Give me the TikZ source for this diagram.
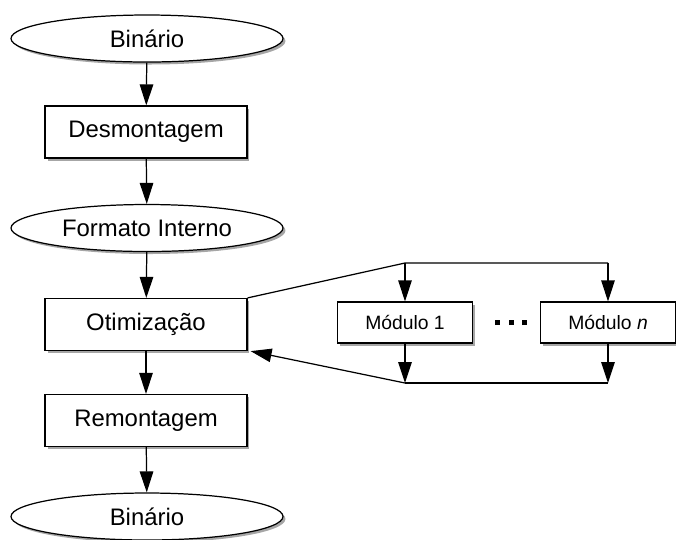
\documentclass[tikz,border=0pt]{standalone}
\usepackage{fontspec}
\setmainfont{Liberation Sans}
\usetikzlibrary{shapes.geometric,shadows,arrows.meta,calc}

\begin{document}
\begin{tikzpicture}[x=0.02cm,y=-0.02cm,line width=0.7pt,
    sombra/.style={drop shadow={shadow xshift=0.05cm,shadow yshift=-0.05cm,
        fill=black!35,opacity=1}},
    dado/.style={ellipse,draw,fill=white,sombra,minimum width=5.44cm,
      minimum height=0.94cm,inner sep=0pt,font=\fontsize{13.6}{15}\selectfont},
    etapa/.style={rectangle,draw,fill=white,sombra,minimum width=4.04cm,
      minimum height=1.04cm,inner sep=0pt,font=\fontsize{13.6}{15}\selectfont},
    modulo/.style={rectangle,draw,fill=white,sombra,minimum width=2.7cm,
      minimum height=0.82cm,inner sep=0pt,font=\fontsize{11}{13}\selectfont},
    seta/.style={-{Triangle[length=0.42cm,width=0.27cm]}}]

    \useasboundingbox (0,0) rectangle (676,539);

    \node[dado] (bin1) at (147,38.5) {Binário};
    \node[etapa] (desm) at (146,132) {Desmontagem};
    \node[dado] (fmt) at (147,228) {Formato Interno};
    \node[etapa] (otim) at (146,324.5) {Otimização};
    \node[etapa] (remo) at (146,420.5) {Remontagem};
    \node[dado] (bin2) at (147,516.5) {Binário};

    \node[modulo] (mod1) at (405,322.5) {Módulo 1};
    \node[modulo] (modn) at (608,322.5) {Módulo \textit{n}};
    \node[inner sep=0pt] (dots) at (511,322.5)
      {\rule{0.1cm}{0.1cm}\hspace{0.17cm}\rule{0.1cm}{0.1cm}\hspace{0.17cm}\rule{0.1cm}{0.1cm}};

    \draw[seta] (bin1) -- (desm);
    \draw[seta] (desm) -- (fmt);
    \draw[seta] (fmt) -- (otim);
    \draw[seta] (otim) -- (remo);
    \draw[seta] (remo) -- (bin2);

    % laco dos modulos
    \coordinate (ida) at ($(mod1)+(0,-59.5)$);
    \coordinate (volta) at ($(mod1)+(0,60.5)$);
    \draw (otim.north east) -- (ida) -- (ida -| modn);
    \draw[seta] (ida) -- (mod1);
    \draw[seta] (ida -| modn) -- (modn);
    \draw[seta] (mod1) -- (volta);
    \draw[seta] (modn) -- (volta -| modn);
    \draw (volta) -- (volta -| modn);
    \draw[seta] (volta) -- ($(otim.south east)+(3,0)$);
\end{tikzpicture}
\end{document}
